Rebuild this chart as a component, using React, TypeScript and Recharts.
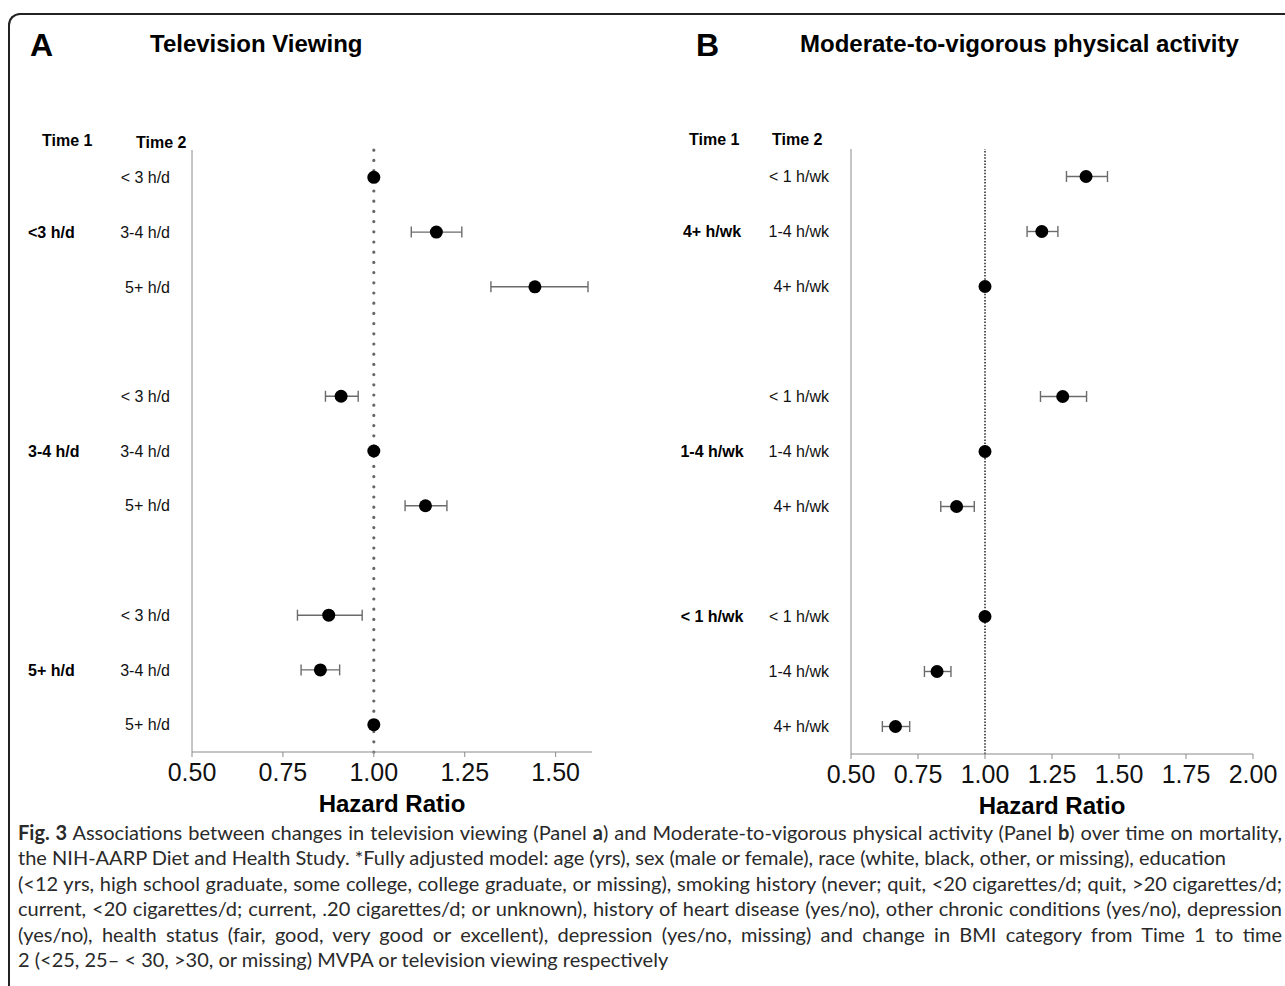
import React from 'react';
import { ScatterChart, Scatter, XAxis, YAxis, ErrorBar, ReferenceLine } from 'recharts';

// Panel A: television viewing (Time 1 group x Time 2 level)
const tvTime1 = ['<3 h/d', '3-4 h/d', '5+ h/d'];
const tvTime2 = ['< 3 h/d', '3-4 h/d', '5+ h/d'];
const tvHR = [1.0, 1.172, 1.443, 0.91, 1.0, 1.142, 0.876, 0.853, 1.0];
const tvLower = [1.0, 1.103, 1.322, 0.867, 1.0, 1.086, 0.79, 0.8, 1.0];
const tvUpper = [1.0, 1.242, 1.589, 0.957, 1.0, 1.201, 0.968, 0.906, 1.0];
const tvTicks = [0.5, 0.75, 1.0, 1.25, 1.5];

// Panel B: moderate-to-vigorous physical activity
const paTime1 = ['4+ h/wk', '1-4 h/wk', '< 1 h/wk'];
const paTime2 = ['< 1 h/wk', '1-4 h/wk', '4+ h/wk'];
const paHR = [1.377, 1.212, 1.0, 1.29, 1.0, 0.894, 1.0, 0.821, 0.666];
const paLower = [1.304, 1.157, 1.0, 1.207, 1.0, 0.835, 1.0, 0.774, 0.617];
const paUpper = [1.457, 1.272, 1.0, 1.379, 1.0, 0.96, 1.0, 0.873, 0.719];
const paTicks = [0.5, 0.75, 1.0, 1.25, 1.5, 1.75, 2.0];

const FONT = '"Liberation Sans", Arial, Helvetica, sans-serif';

// rows 1-3, 5-7, 9-11 (gap row between groups)
const buildRows = (hr: number[], lo: number[], hi: number[]) =>
  hr.map((v, i) => ({
    row: Math.floor(i / 3) * 4 + (i % 3) + 1,
    hr: v,
    err: [v - lo[i], hi[i] - v],
    ref: lo[i] === hi[i],
  }));

const rowTicks = [1, 2, 3, 5, 6, 7, 9, 10, 11];

const labelMap = (labels: string[]) => {
  const m: Record<number, string> = {};
  rowTicks.forEach((r, i) => { m[r] = labels[i % 3]; });
  return m;
};

const makeTick = (labels: Record<number, string>, groups: Record<number, string>, groupX: number, groupAnchor: string) =>
  (props: any) => {
    const { x, y, payload } = props;
    const g = groups[payload.value];
    return (
      <g>
        <text x={x} y={y} dy="0.36em" textAnchor="end" fontSize={16} fill="#111" fontFamily={FONT}>
          {labels[payload.value]}
        </text>
        {g && (
          <text x={groupX} y={y} dy="0.36em" textAnchor={groupAnchor} fontSize={16} fontWeight="bold" fill="#000" fontFamily={FONT}>
            {g}
          </text>
        )}
      </g>
    );
  };

const Dot = (p: any) => <circle cx={p.cx} cy={p.cy} r={6.5} fill="#000" />;

interface PanelProps {
  width: number;
  height: number;
  top: number;
  plotHeight: number;
  axisWidth: number;
  domain: [number, number];
  ticks: number[];
  rows: { row: number; hr: number; err: number[]; ref: boolean }[];
  tick: (p: any) => React.ReactElement;
  refLine: { stroke: string; strokeWidth: number; strokeDasharray: string; strokeLinecap?: any };
}

const Panel: React.FC<PanelProps> = ({ width, height, top, plotHeight, axisWidth, domain, ticks, rows, tick, refLine }) => {
  const est = rows.filter(r => !r.ref);
  const refs = rows.filter(r => r.ref);
  return (
    <ScatterChart width={width} height={height} margin={{ top, right: 28, bottom: height - top - plotHeight - 60, left: 0 }} style={{ fontFamily: FONT }}>
      <XAxis
        type="number"
        dataKey="hr"
        domain={domain}
        ticks={ticks}
        allowDataOverflow
        tickFormatter={(v: number) => v.toFixed(2)}
        stroke="#8a8a8a"
        tickSize={5}
        tickMargin={6}
        height={60}
        tick={{ fill: '#111', fontSize: 25 }}
        label={{ value: 'Hazard Ratio', position: 'insideBottom', offset: 0, fontSize: 24, fontWeight: 'bold', fill: '#000' }}
      />
      <YAxis
        type="number"
        dataKey="row"
        domain={[0.5, 11.5]}
        reversed
        allowDataOverflow
        ticks={rowTicks}
        interval={0}
        width={axisWidth}
        stroke="#8a8a8a"
        tickLine={false}
        tickSize={0}
        tickMargin={22}
        tick={tick}
      />
      <ReferenceLine x={1} {...refLine} />
      <Scatter data={est} shape={Dot} isAnimationActive={false}>
        <ErrorBar dataKey="err" direction="x" width={5.5} stroke="#6b6b6b" strokeWidth={1.4} />
      </Scatter>
      <Scatter data={refs} shape={Dot} isAnimationActive={false} />
    </ScatterChart>
  );
};

const captionLines: React.ReactNode[] = [
  <><b>Fig. 3</b> Associations between changes in television viewing (Panel <b>a</b>) and Moderate-to-vigorous physical activity (Panel <b>b</b>) over time on mortality,</>,
  <>the NIH-AARP Diet and Health Study. *Fully adjusted model: age (yrs), sex (male or female), race (white, black, other, or missing), education</>,
  <>(&lt;12 yrs, high school graduate, some college, college graduate, or missing), smoking history (never; quit, &lt;20 cigarettes/d; quit, &gt;20 cigarettes/d;</>,
  <>current, &lt;20 cigarettes/d; current, .20 cigarettes/d; or unknown), history of heart disease (yes/no), other chronic conditions (yes/no), depression</>,
  <>(yes/no), health status (fair, good, very good or excellent), depression (yes/no, missing) and change in BMI category from Time 1 to time</>,
  <>2 (&lt;25, 25– &lt; 30, &gt;30, or missing) MVPA or television viewing respectively</>,
];
const justifiedLines = [true, false, true, true, true, false];

export default function App() {
  const tvRows = buildRows(tvHR, tvLower, tvUpper);
  const paRows = buildRows(paHR, paLower, paUpper);
  const tvTick = makeTick(labelMap(tvTime2), { 2: tvTime1[0], 6: tvTime1[1], 10: tvTime1[2] }, 28, 'start');
  const paTick = makeTick(labelMap(paTime2), { 2: paTime1[0], 6: paTime1[1], 9: paTime1[2] }, 72, 'middle');

  return (
    <div style={{ position: 'absolute', left: 0, top: 0, width: 1285, height: 986, overflow: 'hidden', background: '#fff', fontFamily: FONT }}>
      <div style={{ position: 'absolute', left: 8, top: 13, width: 1320, height: 1020, borderTop: '2px solid #222', borderLeft: '2px solid #222', borderTopLeftRadius: 12 }} />
      <svg width={1285} height={170} style={{ position: 'absolute', left: 0, top: 0 }} fontFamily={FONT}>
        <text x={30} y={56} fontSize={32} fontWeight="bold" fill="#000">A</text>
        <text x={150} y={52} fontSize={24} fontWeight="bold" fill="#000">Television Viewing</text>
        <text x={696} y={56} fontSize={32} fontWeight="bold" fill="#000">B</text>
        <text x={800} y={52} fontSize={24} fontWeight="bold" fill="#000">Moderate-to-vigorous physical activity</text>
        <text x={42} y={146} fontSize={16} fontWeight="bold" fill="#000">Time 1</text>
        <text x={136} y={148} fontSize={16} fontWeight="bold" fill="#000">Time 2</text>
        <text x={689} y={145} fontSize={16} fontWeight="bold" fill="#000">Time 1</text>
        <text x={772} y={145} fontSize={16} fontWeight="bold" fill="#000">Time 2</text>
      </svg>
      <div style={{ position: 'absolute', left: 0, top: 0 }}>
        <Panel
          width={620} height={830} top={150} plotHeight={602} axisWidth={192}
          domain={[0.5, 1.6]} ticks={tvTicks} rows={tvRows} tick={tvTick}
          refLine={{ stroke: '#666', strokeWidth: 3.2, strokeDasharray: '0 10.2', strokeLinecap: 'round' }}
        />
      </div>
      <div style={{ position: 'absolute', left: 640, top: 0 }}>
        <Panel
          width={641} height={830} top={149} plotHeight={605} axisWidth={211}
          domain={[0.5, 2.0]} ticks={paTicks} rows={paRows} tick={paTick}
          refLine={{ stroke: '#222', strokeWidth: 1.5, strokeDasharray: '1.5 1.6' }}
        />
      </div>
      <div style={{ position: 'absolute', left: 18, top: 820, width: 1264, fontFamily: 'Lato, "Open Sans", sans-serif', fontSize: 20, lineHeight: '25.4px', color: '#2a2a2a' }}>
        {captionLines.map((l, i) => (
          <div key={i} style={{ whiteSpace: 'nowrap', textAlign: justifiedLines[i] ? 'justify' : 'left', textAlignLast: justifiedLines[i] ? 'justify' : 'left' }}>{l}</div>
        ))}
      </div>
    </div>
  );
}
